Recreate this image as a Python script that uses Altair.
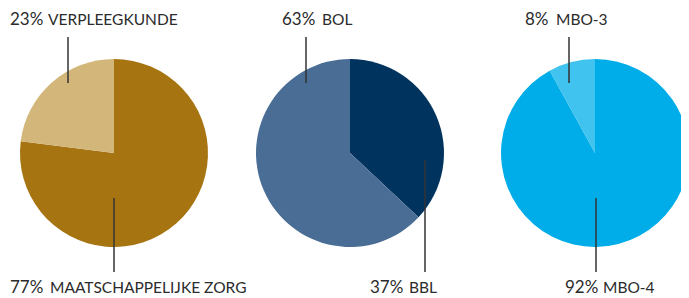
import altair as alt
import pandas as pd

# ---- data ----
pies = ["p1", "p2", "p3"]
categories = [
    ["maatschappelijke zorg", "verpleegkunde"],
    ["bbl", "bol"],
    ["mbo-4", "mbo-3"],
]
values = [
    [77, 23],
    [37, 63],
    [92, 8],
]
colors = [
    ["#A67512", "#D3B67A"],
    ["#00335E", "#4A6D95"],
    ["#00ADE8", "#40C3EE"],
]

# ---- layout (page px minus 8px margin) ----
centers = [(106, 145), (342, 145), (587, 145)]
radius = 94
top_pct_x = [2, 274, 517]
top_lab_x = [40, 314, 548]
bot_pct_x = [2, 362, 557]
bot_lab_x = [42, 401, 595]
top_base_y = 17
bot_base_y = 285
top_lines = [(60, 29, 75), (298, 29, 75), (561, 29, 75)]
bot_lines = [(106, 190, 264), (417, 152, 264), (588, 190, 264)]

rows = []
for p, cats, vals, cols in zip(pies, categories, values, colors):
    for i, (c, v, col) in enumerate(zip(cats, vals, cols)):
        rows.append({"pie": p, "cat": c, "value": v, "color": col, "order": i})
df = pd.DataFrame(rows)

layers = []
for k, p in enumerate(pies):
    cx, cy = centers[k]
    arc = (
        alt.Chart(df)
        .transform_filter(alt.datum.pie == p)
        .mark_arc(radius=radius, stroke=None)
        .encode(
            theta=alt.Theta("value:Q", stack=True),
            order=alt.Order("order:Q"),
            color=alt.Color("color:N", scale=None),
            x=alt.value(cx),
            y=alt.value(cy),
        )
    )
    layers.append(arc)

text_rows = []
for k, p in enumerate(pies):
    text_rows.append({"pie": p, "pos": "top", "pct": f"{values[k][1]}%", "lab": categories[k][1].upper()})
    text_rows.append({"pie": p, "pos": "bot", "pct": f"{values[k][0]}%", "lab": categories[k][0].upper()})
tdf = pd.DataFrame(text_rows)

font = "Lato"
tcol = "#2b2b2b"
for k, p in enumerate(pies):
    for pos, px, lx, by in [("top", top_pct_x[k], top_lab_x[k], top_base_y),
                            ("bot", bot_pct_x[k], bot_lab_x[k], bot_base_y)]:
        base = alt.Chart(tdf).transform_filter((alt.datum.pie == p) & (alt.datum.pos == pos))
        layers.append(
            base.mark_text(align="left", baseline="alphabetic", font=font, fontSize=17, color=tcol)
            .encode(text="pct:N", x=alt.value(px), y=alt.value(by))
        )
        layers.append(
            base.mark_text(align="left", baseline="alphabetic", font=font, fontSize=15.5, color=tcol)
            .encode(text="lab:N", x=alt.value(lx), y=alt.value(by))
        )

for (x, y1, y2) in top_lines + bot_lines:
    layers.append(
        alt.Chart(pd.DataFrame({"a": [0]}))
        .mark_rule(color="#333333", strokeWidth=1.5)
        .encode(x=alt.value(x), y=alt.value(y1), y2=alt.value(y2))
    )

chart = (
    alt.layer(*layers)
    .resolve_scale(theta="independent")
    .properties(width=673, height=290, padding=0, autosize=alt.AutoSizeParams(type="none"))
    .configure_view(stroke=None)
)

chart.save("out.html", embed_options={"renderer": "svg", "actions": False})
